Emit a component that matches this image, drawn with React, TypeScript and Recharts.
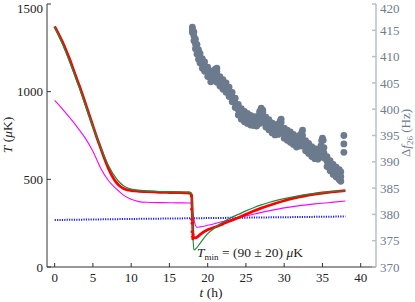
import React from "react";
import { ComposedChart, Line, Scatter, XAxis, YAxis } from "recharts";

// temperature curves, t in hours, T in microkelvin
const redT = [0, 0.5, 1, 1.5, 2, 2.5, 3, 3.5, 4, 4.5, 5, 5.5, 6, 6.5, 7, 7.5, 8, 8.5, 9, 9.5, 10, 11, 12, 13, 14, 15, 16, 17, 17.6, 17.9, 18.0, 18.1, 18.3, 18.6, 19, 20, 21, 22, 23, 24, 25, 26, 27, 28, 29, 30, 31, 32, 33, 34, 35, 36, 37, 38];
const redK = [1372, 1330, 1285, 1235, 1180, 1120, 1060, 1000, 935, 870, 805, 740, 680, 620, 565, 520, 485, 462, 448, 440, 436, 432, 430, 428, 426, 425, 424, 423, 422, 410, 290, 175, 166, 170, 185, 212, 228, 246, 264, 281, 300, 319, 336, 351, 365, 378, 390, 400, 409, 416, 422, 427, 431, 435];

const greenT = [0, 1, 2, 3, 4, 5, 6, 7, 8, 8.5, 9, 9.5, 10, 11, 12, 14, 16, 17.5, 17.9, 18.05, 18.2, 18.5, 19, 20, 21, 22, 23, 24, 25, 26, 27, 28, 29, 30, 31, 32, 33, 34, 35, 36, 37, 38];
const greenK = [1368, 1275, 1165, 1050, 925, 800, 682, 582, 508, 482, 464, 452, 444, 437, 433, 430, 428, 427, 420, 200, 97, 106, 135, 190, 226, 256, 281, 300, 320, 338, 354, 368, 380, 390, 399, 407, 414, 420, 425, 429, 432, 435];

const magentaT = [0, 1, 2, 3, 4, 5, 6, 7, 8, 9, 10, 11, 12, 14, 16, 17.8, 18.0, 18.3, 18.6, 19, 20, 22, 24, 26, 28, 30, 32, 34, 36, 38];
const magentaK = [950, 902, 850, 795, 735, 660, 565, 495, 448, 410, 386, 373, 369, 367, 366, 365, 330, 252, 227, 229, 238, 260, 281, 301, 320, 337, 350, 360, 368, 376];

const blueT = [0, 10, 20, 30, 38];
const blueK = [268, 274, 279, 284, 288];

// red markers scattered along the quench
const redDropT = [17.85, 17.9, 17.9, 17.95, 17.95, 18.0, 18.05, 18.1, 18.2];
const redDropK = [405, 330, 272, 250, 200, 172, 160, 185, 168];

// frequency drift (right axis, Hz): upper edge, centre and lower edge of the cloud
const driftT = [18.0, 18.2, 18.4, 18.6, 18.8, 19.0, 19.3, 19.6, 20.0, 20.4, 20.8, 21.2, 21.6, 22.0, 22.4, 22.8, 23.2, 23.6, 24.0, 24.4, 24.8, 25.2, 25.6, 26.0, 26.4, 26.8, 27.2, 27.6, 28.0, 28.4, 28.8, 29.2, 29.6, 30.0, 30.4, 30.8, 31.2, 31.6, 32.0, 32.4, 32.8, 33.2, 33.6, 34.0, 34.4, 34.8, 35.2, 35.6, 36.0, 36.4, 36.8, 37.2, 37.4];
const driftHi = [415.6, 414.7, 413.3, 412.3, 411.3, 410.6, 409.6, 409.0, 408.0, 407.2, 407.4, 407.1, 406.2, 405.6, 405.0, 404.2, 403.2, 402.1, 400.9, 400.1, 399.6, 399.2, 398.8, 398.6, 398.6, 399.2, 399.4, 398.5, 398.0, 397.4, 397.0, 397.2, 397.5, 396.4, 396.0, 395.7, 395.2, 394.8, 395.0, 395.0, 394.0, 393.5, 392.9, 392.5, 392.4, 393.0, 392.7, 391.0, 390.2, 389.5, 389.0, 388.5, 388.1];
const driftMid = [415.1, 413.9, 412.4, 411.4, 410.4, 409.7, 408.7, 408.1, 407.1, 406.2, 406.4, 406.1, 405.3, 404.7, 404.1, 403.3, 402.3, 401.2, 399.9, 399.1, 398.6, 398.3, 397.9, 397.8, 397.7, 398.3, 398.5, 397.6, 397.1, 396.5, 396.1, 396.2, 396.5, 395.5, 395.1, 394.7, 394.3, 393.8, 394.0, 394.0, 393.1, 392.6, 392.0, 391.6, 391.5, 392.0, 391.7, 390.1, 389.3, 388.6, 388.1, 387.6, 387.2];
const driftLo = [414.6, 413.0, 411.5, 410.5, 409.5, 408.8, 407.8, 407.2, 406.2, 405.2, 405.4, 405.1, 404.4, 403.8, 403.2, 402.4, 401.4, 400.3, 398.9, 398.1, 397.6, 397.3, 397.0, 396.9, 396.8, 397.3, 397.5, 396.6, 396.1, 395.5, 395.1, 395.2, 395.5, 394.5, 394.1, 393.7, 393.3, 392.8, 393.0, 393.0, 392.1, 391.6, 391.0, 390.6, 390.5, 391.0, 390.7, 389.1, 388.3, 387.6, 387.1, 386.6, 386.3];
// short upward spikes and the isolated points at the end
const spikeT = [21.0, 21.2, 26.8, 27.0, 27.2, 29.5, 29.6, 32.3, 32.4, 34.9, 35.0, 35.1, 37.8, 37.8, 37.8];
const spikeHz = [407.6, 407.8, 399.6, 400.2, 399.8, 397.8, 398.1, 395.6, 396.0, 394.0, 394.5, 394.1, 395.0, 393.4, 391.8];

const xTicks = [0, 5, 10, 15, 20, 25, 30, 35, 40];
const leftTicks = [0, 500, 1000, 1500];
const rightTicks = [370, 375, 380, 385, 390, 395, 400, 405, 410, 415, 420];

const toRows = (ts: number[], vs: number[], key: string) =>
  ts.map((t, i) => ({ t, [key]: vs[i] }));

const red = toRows(redT, redK, "T");
const green = toRows(greenT, greenK, "T");
const magenta = toRows(magentaT, magentaK, "T");
const blue = toRows(blueT, blueK, "T");
const redDrop = toRows(redDropT, redDropK, "T");
const drift = [
  ...toRows(driftT, driftHi, "f"),
  ...toRows(driftT, driftMid, "f"),
  ...toRows(driftT, driftLo, "f"),
  ...toRows(spikeT, spikeHz, "f"),
];

const FONT = "Liberation Serif, serif";
const GRAYDOT = "#6c7a8e";
const GRAYAXIS = "#6f7d92";

const grayDot = (p: any) => <circle cx={p.cx} cy={p.cy} r={3.4} fill={GRAYDOT} />;
const redDot = (p: any) => <circle cx={p.cx} cy={p.cy} r={1.4} fill="#ff0000" />;
const noTick = () => <g />;

export default function App() {
  return (
    <div style={{ position: "absolute", left: 0, top: 0, width: 415, height: 302, background: "#fff", fontFamily: FONT }}>
      <ComposedChart width={415} height={302} margin={{ top: 4, right: 0, bottom: 0, left: 0 }} style={{ fontFamily: FONT }}>
        <XAxis
          type="number"
          dataKey="t"
          domain={[-1, 42]}
          allowDataOverflow
          ticks={xTicks}
          height={35}
          tickSize={-4}
          tickMargin={10}
          stroke="#333"
          tick={{ fill: "#222", fontSize: 13, fontFamily: FONT }}
        />
        <XAxis
          xAxisId="top"
          orientation="top"
          type="number"
          dataKey="t"
          domain={[-1, 42]}
          allowDataOverflow
          ticks={xTicks}
          height={0}
          tickSize={-4}
          stroke="#999"
          tick={noTick}
        />
        <YAxis
          yAxisId="left"
          domain={[0, 1500]}
          ticks={leftTicks}
          width={47}
          tickSize={-4}
          tickMargin={8}
          stroke="#333"
          tick={{ fill: "#222", fontSize: 13, fontFamily: FONT }}
        />
        <YAxis
          yAxisId="right"
          orientation="right"
          domain={[370, 420]}
          ticks={rightTicks}
          width={39}
          tickSize={-4}
          tickMargin={8}
          stroke="#b9c0ca"
          strokeWidth={1.5}
          tick={{ fill: GRAYAXIS, fontSize: 13, fontFamily: FONT }}
        />
        <Scatter yAxisId="right" data={drift} dataKey="f" shape={grayDot} isAnimationActive={false} />
        <Line yAxisId="left" data={blue} dataKey="T" type="linear" stroke="#1a1aff" strokeWidth={2} strokeDasharray="1.2 1.2" dot={false} isAnimationActive={false} />
        <Line yAxisId="left" data={magenta} dataKey="T" type="monotone" stroke="#ff00ff" strokeWidth={1.1} dot={false} isAnimationActive={false} />
        <Line yAxisId="left" data={red} dataKey="T" type="monotone" stroke="#ff0000" strokeWidth={2.8} dot={false} isAnimationActive={false} />
        <Scatter yAxisId="left" data={redDrop} dataKey="T" shape={redDot} isAnimationActive={false} />
        <Line yAxisId="left" data={green} dataKey="T" type="monotone" stroke="#1e8a3c" strokeWidth={1.2} dot={false} isAnimationActive={false} />
      </ComposedChart>
      <svg width={415} height={302} style={{ position: "absolute", left: 0, top: 0, pointerEvents: "none" }} fontFamily={FONT}>
        <text x={197} y={257} fontSize={13.5} fill="#222">
          <tspan fontStyle="italic">T</tspan>
          <tspan fontSize={9} dy={3}>min</tspan>
          <tspan dy={-3}> = (90 ± 20) </tspan>
          <tspan fontStyle="italic">μ</tspan>
          <tspan>K</tspan>
        </text>
        <text x={211} y={297} fontSize={13.5} fill="#222" textAnchor="middle">
          <tspan fontStyle="italic">t</tspan>
          <tspan> (h)</tspan>
        </text>
        <text x={12} y={135} fontSize={13.5} fill="#222" textAnchor="middle" transform="rotate(-90 12 135)">
          <tspan fontStyle="italic">T</tspan>
          <tspan> (</tspan>
          <tspan fontStyle="italic">μ</tspan>
          <tspan>K)</tspan>
        </text>
        <text x={410} y={133} fontSize={13} fill={GRAYAXIS} textAnchor="middle" transform="rotate(-90 410 133)">
          <tspan>Δ</tspan>
          <tspan fontStyle="italic">f</tspan>
          <tspan fontSize={9} dy={3}>26</tspan>
          <tspan dy={-3}> (Hz)</tspan>
        </text>
      </svg>
    </div>
  );
}
